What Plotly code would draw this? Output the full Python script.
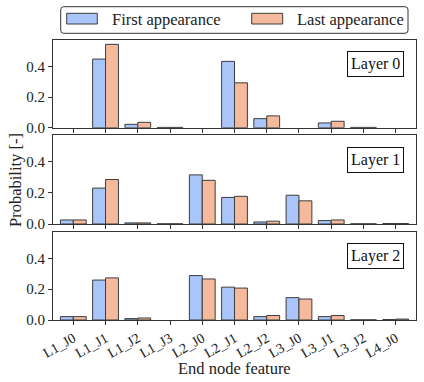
import plotly.graph_objects as go

categories = ["L1_J0", "L1_J1", "L1_J2", "L1_J3", "L2_J0", "L2_J1",
              "L2_J2", "L3_J0", "L3_J1", "L3_J2", "L4_J0"]
layer_names = ["Layer 0", "Layer 1", "Layer 2"]

first_l0 = [0.0, 0.448, 0.022, 0.002, 0.0, 0.433, 0.059, 0.0, 0.031, 0.002, 0.0]
last_l0 = [0.0, 0.544, 0.035, 0.002, 0.0, 0.293, 0.077, 0.0, 0.042, 0.002, 0.0]
first_l1 = [0.026, 0.231, 0.007, 0.001, 0.316, 0.171, 0.013, 0.185, 0.022, 0.001, 0.003]
last_l1 = [0.026, 0.286, 0.007, 0.001, 0.281, 0.178, 0.018, 0.149, 0.026, 0.001, 0.003]
first_l2 = [0.022, 0.259, 0.009, 0.0, 0.288, 0.213, 0.022, 0.145, 0.022, 0.001, 0.003]
last_l2 = [0.022, 0.273, 0.013, 0.0, 0.266, 0.207, 0.029, 0.136, 0.029, 0.001, 0.006]

series_names = ["First appearance", "Last appearance"]
y_ticks = [0.0, 0.2, 0.4]

BLUE = "#a9c5f9"
ORANGE = "#f5b99c"
EDGE = "#3d3d3d"
FONT = "Liberation Serif"

W, H = 424, 382
ML, MR, MT, MB = 53, 8, 40, 62
PW, PH = W - ML - MR, H - MT - MB


def px_x(p):
    return (p - ML) / PW


def px_y(p):
    return (H - MB - p) / PH


# panel pixel extents (top, bottom)
panels = [(40, 127.7), (135, 224), (231.7, 320)]

data = [(first_l0, last_l0), (first_l1, last_l1), (first_l2, last_l2)]


def nz(vals):
    return [v if v > 0 else None for v in vals]


fig = go.Figure()
for i, (fv, lv) in enumerate(data):
    xa = "x" if i == 0 else f"x{i+1}"
    ya = "y" if i == 0 else f"y{i+1}"
    fig.add_trace(go.Bar(x=list(range(len(categories))), y=nz(fv), name=series_names[0],
                         marker=dict(color=BLUE, line=dict(color=EDGE, width=1)),
                         offset=-0.4, width=0.4, xaxis=xa, yaxis=ya, showlegend=False,
                         hoverinfo="skip"))
    fig.add_trace(go.Bar(x=list(range(len(categories))), y=nz(lv), name=series_names[1],
                         marker=dict(color=ORANGE, line=dict(color=EDGE, width=1)),
                         offset=0.0, width=0.4, xaxis=xa, yaxis=ya, showlegend=False,
                         hoverinfo="skip"))

layout = dict(
    width=W, height=H,
    margin=dict(l=ML, r=MR, t=MT, b=MB, autoexpand=False),
    paper_bgcolor="white", plot_bgcolor="white",
    font=dict(family=FONT, size=15, color="#222"),
    barmode="overlay",
    showlegend=False,
    hovermode=False,
)

for i, (top, bot) in enumerate(panels):
    sx = "" if i == 0 else str(i + 1)
    ydom = [px_y(bot), px_y(top)]
    layout["xaxis" + sx] = dict(
        domain=[0, 1], anchor="y" + sx, range=[-0.63, 10.63],
        tickmode="array", tickvals=list(range(len(categories))),
        ticktext=categories if i == 2 else [""] * len(categories),
        showticklabels=(i == 2), tickangle=-30, automargin=False,
        ticks="outside", ticklen=4, tickcolor="#333", tickwidth=1,
        showline=True, linecolor="#333", linewidth=1, mirror=True,
        showgrid=False, zeroline=False, fixedrange=True,
        tickfont=dict(family=FONT, size=14, color="#222"),
    )
    layout["yaxis" + sx] = dict(
        domain=ydom, anchor="x" + sx, range=[0, 0.5725], automargin=False,
        tickmode="array", tickvals=y_ticks,
        ticktext=[f"{v:.1f}" for v in y_ticks],
        ticks="outside", ticklen=4, tickcolor="#333", tickwidth=1,
        showline=True, linecolor="#333", linewidth=1, mirror=True,
        showgrid=False, zeroline=False, fixedrange=True,
        tickfont=dict(family=FONT, size=15, color="#222"),
    )

fig.update_layout(**layout)

# layer label boxes
for i, name in enumerate(layer_names):
    sx = "" if i == 0 else str(i + 1)
    fig.add_annotation(
        text=name, xref="x" + sx + " domain",
        yref="y" + sx + " domain", x=0.967, y=0.87,
        xanchor="right", yanchor="top", showarrow=False,
        bordercolor="#111", borderwidth=1, borderpad=3, bgcolor="white",
        font=dict(family=FONT, size=16, color="#111"),
    )

# axis titles
fig.add_annotation(text="Probability [-]", xref="paper", yref="paper",
                   x=px_x(15), y=px_y(180), textangle=-90, showarrow=False,
                   xanchor="center", yanchor="middle",
                   font=dict(family=FONT, size=16.5, color="#222"))
fig.add_annotation(text="End node feature", xref="paper", yref="paper",
                   x=px_x(234.5), y=px_y(368), showarrow=False,
                   xanchor="center", yanchor="middle",
                   font=dict(family=FONT, size=16.5, color="#222"))

# legend (drawn manually to mimic the boxed legend)
x0, x1, y0, y1 = px_x(60.7), px_x(408), px_y(33.3), px_y(6.7)
rx = 3 / PW
ry = 3 / PH
path = (f"M {x0+rx},{y1} L {x1-rx},{y1} Q {x1},{y1} {x1},{y1-ry} "
        f"L {x1},{y0+ry} Q {x1},{y0} {x1-rx},{y0} L {x0+rx},{y0} "
        f"Q {x0},{y0} {x0},{y0+ry} L {x0},{y1-ry} Q {x0},{y1} {x0+rx},{y1} Z")
fig.add_shape(type="path", path=path, xref="paper", yref="paper",
              line=dict(color="#333", width=1), fillcolor="white")
legend_items = [(BLUE, 66.7, 97.3, 110), (ORANGE, 251.7, 282.7, 295)]
for (col, px0, px1, tx), name in zip(legend_items, series_names):
    fig.add_shape(type="rect", xref="paper", yref="paper",
                  x0=px_x(px0), x1=px_x(px1), y0=px_y(24), y1=px_y(13.3),
                  fillcolor=col, line=dict(color=EDGE, width=1))
    fig.add_annotation(text=name, xref="paper", yref="paper",
                       x=px_x(tx), y=px_y(19.5), xanchor="left", yanchor="middle",
                       showarrow=False, font=dict(family=FONT, size=16.5, color="#222"))

# remove the browser's default 8px body margin so the figure sits at the page origin
fig.write_html("out.html", config={"displayModeBar": False},
               post_script="document.body.style.margin='0px';")
